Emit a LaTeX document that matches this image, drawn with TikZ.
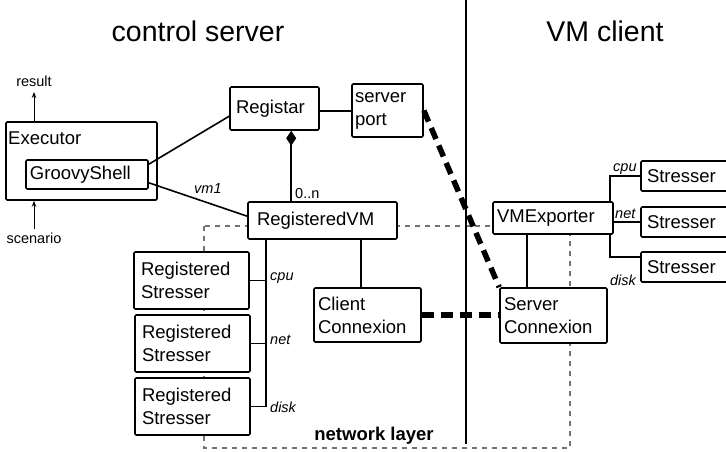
\documentclass[tikz,border=0pt]{standalone}
\usepackage{fontspec}
\setmainfont{Liberation Sans}
\usetikzlibrary{arrows.meta,calc}
\newcommand\drawbox[7][5]{%
  \pgfmathsetmacro\bxw{#5-#3}%
  \pgfmathsetmacro\bxh{#6-#4}%
  \pgfmathsetmacro\bxt{#5-#3-2*#1}%
  \pgfmathsetmacro\bxcx{(#3+#5)/2}%
  \pgfmathsetmacro\bxcy{(#4+#6)/2}%
  \node[box, inner xsep=#1pt, minimum width=\bxw pt, minimum height=\bxh pt, text width=\bxt pt] (#2) at (\bxcx,\bxcy) {#7};}
\tikzset{
  box/.style={draw, line width=1.6pt, fill=white, rounded corners=1.2pt, inner ysep=2pt, align=left, font=\fontsize{18.5}{23}\selectfont},
  conn/.style={line width=1.6pt},
  thickdash/.style={line width=5.5pt, dash pattern=on 12pt off 7pt},
  netdash/.style={line width=1.1pt, draw=black!55, dash pattern=on 5pt off 5pt},
  lbl/.style={inner sep=0pt, font=\fontsize{14.5}{17}\selectfont},
  ilbl/.style={inner sep=0pt, font=\fontsize{14.5}{17}\selectfont\itshape},
  title/.style={inner sep=0pt, font=\fontsize{28.5}{32}\selectfont},
  arr/.style={line width=1pt, -{Stealth[length=6pt,width=4.5pt]}}
}
\begin{document}
\begin{tikzpicture}[x=1pt,y=-1pt]
\useasboundingbox (0,0) rectangle (726,452);
% network layer area and divider
\draw[netdash] (204,226) rectangle (570,448);
\draw[line width=1.2pt] (466,0) -- (466,444);
% titles
\node[title, anchor=base] (tcs) at (198,42) {control server};
\node[title, anchor=base] (tvm) at (605,42) {VM client};
\node[inner sep=0pt, anchor=base, font=\fontsize{18.5}{22}\selectfont\bfseries] (nl) at (374,440) {network layer};
% boxes
\drawbox{exec}{6}{122}{157}{200}{}
\node[inner sep=0pt, anchor=base west, font=\fontsize{18.5}{22}\selectfont] (execl) at (8,144) {Executor};
\drawbox[4]{gs}{26}{160}{148}{189}{GroovyShell}
\drawbox[6]{reg}{230}{87}{319}{130}{Registar}
\drawbox[3]{sp}{352}{84}{423}{137}{server\\port}
\drawbox[9]{rvm}{248}{202}{397}{239}{RegisteredVM}
\drawbox[7]{rs1}{134}{252}{249}{309}{Registered\\Stresser}
\drawbox[7]{rs2}{135}{315}{250}{372}{Registered\\Stresser}
\drawbox[7]{rs3}{135}{378}{250}{435}{Registered\\Stresser}
\drawbox[4]{cc}{314}{288}{421}{342}{Client\\Connexion}
\drawbox[4]{vme}{493}{202}{613}{234}{VMExporter}
\drawbox[4]{sc}{500}{288}{607}{343}{Server\\Connexion}
\drawbox[6]{st1}{641}{161}{740}{191}{Stresser}
\drawbox[6]{st2}{641}{207}{740}{237}{Stresser}
\drawbox[6]{st3}{641}{252}{740}{282}{Stresser}
% result / scenario
\node[lbl, anchor=base] (res) at (34,86) {result};
\node[lbl, anchor=base] (scen) at (34,243) {scenario};
\coordinate (restip) at (34,92);
\coordinate (scenst) at (34,229);
\draw[arr] (exec.north -| restip) -- (restip);
\draw[arr] (scenst) -- (exec.south -| scenst);
% executor connections
\draw[conn] ($(gs.north east)+(0,5)$) -- ($(reg.north west)+(0,30)$);
\draw[conn] ($(gs.south east)+(0,-7)$) -- ($(rvm.north west)+(0,15)$);
\node[ilbl, anchor=base west] (vm1) at (194,193) {vm1};
% registar
\draw[conn] ($(reg.north east)+(0,25)$) -- ($(sp.north west)+(0,28)$);
\draw[conn, {Diamond[length=15pt,width=10pt,fill=black]}-] ($(reg.south west)+(62,0)$) -- ($(rvm.north west)+(44,0)$);
\node[lbl, anchor=base west] (mult) at (295,198) {0..n};
% registered stressers bus
\coordinate (busx) at (266,0);
\draw[conn] (rvm.south -| busx) -- (rs3.east -| busx) -- (rs3.east);
\draw[conn] (rs1.east) -- (rs1.east -| busx);
\draw[conn] (rs2.east) -- (rs2.east -| busx);
\node[ilbl, anchor=base west] (lcpu) at (270,280) {cpu};
\node[ilbl, anchor=base west] (lnet) at (270,344) {net};
\node[ilbl, anchor=base west] (ldisk) at (270,412) {disk};
% client connexion
\coordinate (ccx) at (361,0);
\draw[conn] (rvm.south -| ccx) -- (cc.north -| ccx);
\draw[thickdash] (cc.east) -- (cc.east -| sc.west);
\draw[thickdash] (sp.east) -- (sc.north west);
% VM client side
\coordinate (vx) at (527,0);
\draw[conn] (vme.south -| vx) -- (sc.north -| vx);
\coordinate (vb) at (610,0);
\draw[conn] (vme.north -| vb) |- (st1.west);
\draw[conn] (vme.east |- st2.west) -- (st2.west);
\draw[conn] (vme.south -| vb) |- ($(st3.north west)+(0,6)$);
\node[ilbl, anchor=base west] (vcpu) at (613,171) {cpu};
\node[ilbl, anchor=base west] (vnet) at (615,218) {net};
\node[ilbl, anchor=base east] (vdisk) at (636,285) {disk};
\end{tikzpicture}
\end{document}
